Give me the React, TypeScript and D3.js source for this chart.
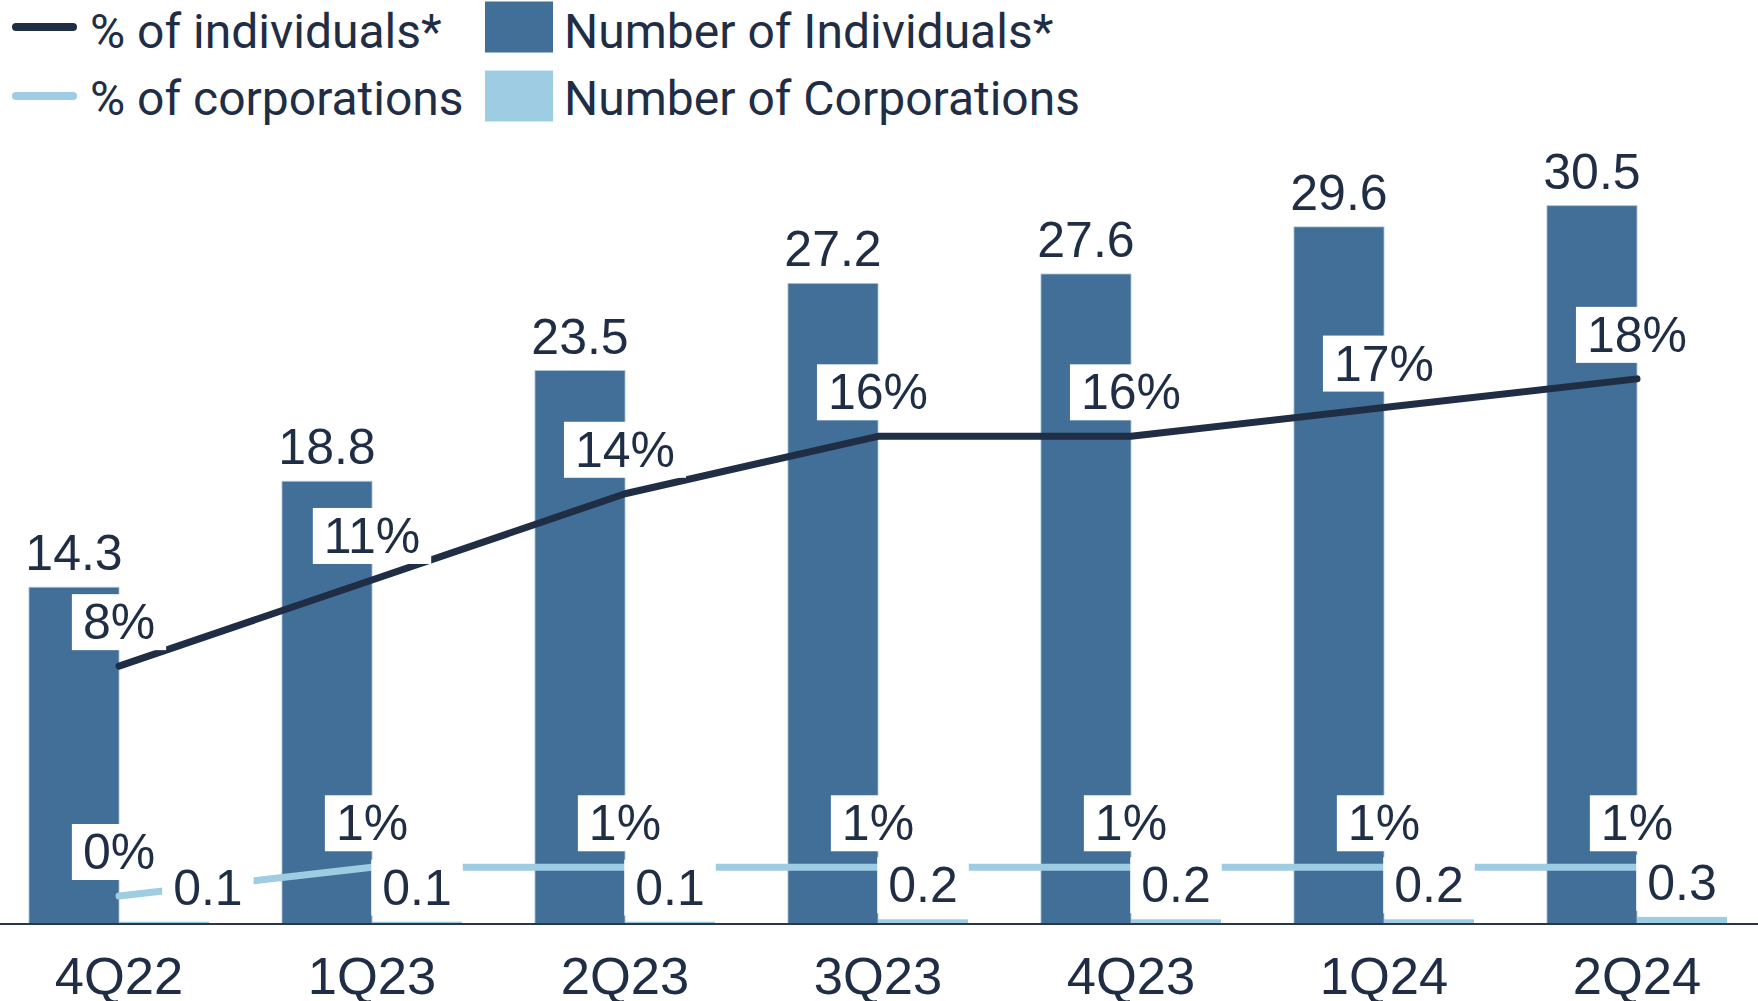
import * as d3 from "d3";
import React, { useEffect, useRef } from "react";

const quarters = ["4Q22", "1Q23", "2Q23", "3Q23", "4Q23", "1Q24", "2Q24"];
const individuals = [14.3, 18.8, 23.5, 27.2, 27.6, 29.6, 30.5];
const corporations = [0.1, 0.1, 0.1, 0.2, 0.2, 0.2, 0.3];
const pctIndividuals = [0.08, 0.11, 0.14, 0.16, 0.16, 0.17, 0.18];
const pctCorporations = [0.0, 0.01, 0.01, 0.01, 0.01, 0.01, 0.01];

const legendLines = ["% of individuals*", "% of corporations"];
const legendBars = ["Number of Individuals*", "Number of Corporations"];

const NAVY = "#1f2d45";
const DARK_BAR = "#426f97";
const LIGHT = "#9ecde3";
const LABEL_FONT = "'Liberation Sans', Arial, sans-serif";

type Box = { x0: number; x1: number; y0: number; y1: number };

const Chart: React.FC = () => {
  const svgRef = useRef<SVGSVGElement | null>(null);

  useEffect(() => {
    document.body.style.margin = "0";
    const svg = d3.select(svgRef.current);
    svg.selectAll("*").remove();
    const width = 1758;
    const height = 1001;
    const base = 924;

    const x = d3.scaleBand<string>().domain(quarters).range([29, 1727]).paddingInner(0.2884);
    const sub = d3.scaleBand<string>().domain(["ind", "corp"]).range([0, x.bandwidth()]);
    const y = d3.scaleLinear().domain([0, 35]).range([base, 99.75]);
    const yPct = d3.scaleLinear().domain([0, 0.2]).range([896, 321.4]);
    const bw = sub.bandwidth();

    // barre
    const bars = svg.append("g");
    bars
      .selectAll("rect.ind")
      .data(individuals)
      .join("rect")
      .attr("x", (_, i) => x(quarters[i])! + sub("ind")!)
      .attr("y", (d) => y(d))
      .attr("width", bw)
      .attr("height", (d) => base - y(d))
      .attr("fill", DARK_BAR)
      .attr("stroke", "#a9c1d7")
      .attr("stroke-width", 0.8);
    bars
      .selectAll("rect.corp")
      .data(corporations)
      .join("rect")
      .attr("x", (_, i) => x(quarters[i])! + sub("corp")!)
      .attr("y", (d) => y(d))
      .attr("width", bw)
      .attr("height", (d) => base - y(d))
      .attr("fill", LIGHT);

    // asse x
    svg
      .append("line")
      .attr("x1", 0)
      .attr("x2", width)
      .attr("y1", base)
      .attr("y2", base)
      .attr("stroke", "#2b3649")
      .attr("stroke-width", 2);

    // linee percentuali
    const px = (i: number) => x(quarters[i])! + bw;
    const line = d3
      .line<number>()
      .x((_, i) => px(i))
      .y((d) => yPct(d));
    svg
      .append("path")
      .datum(pctCorporations)
      .attr("d", line)
      .attr("fill", "none")
      .attr("stroke", LIGHT)
      .attr("stroke-width", 7)
      .attr("stroke-linecap", "round")
      .attr("stroke-linejoin", "round");
    svg
      .append("path")
      .datum(pctIndividuals)
      .attr("d", line)
      .attr("fill", "none")
      .attr("stroke", NAVY)
      .attr("stroke-width", 7)
      .attr("stroke-linecap", "round")
      .attr("stroke-linejoin", "round");

    // etichette con sfondo bianco
    const labels = svg
      .append("g")
      .attr("font-family", LABEL_FONT)
      .attr("font-size", 50)
      .attr("fill", NAVY);
    const addLabel = (cx: number, baseline: number, txt: string) => {
      const grp = labels.append("g");
      const rect = grp.append("rect").attr("fill", "white");
      const t = grp
        .append("text")
        .attr("x", cx)
        .attr("y", baseline)
        .attr("text-anchor", "middle")
        .text(txt);
      const bb = (t.node() as SVGTextElement).getBBox();
      rect
        .attr("x", bb.x - 11)
        .attr("y", bb.y)
        .attr("width", bb.width + 22)
        .attr("height", bb.height);
      const box: Box = { x0: bb.x - 11, x1: bb.x + bb.width + 11, y0: bb.y, y1: bb.y + bb.height };
      return { grp, box };
    };
    const fmtPct = d3.format(".0%");

    const corpPctBoxes = pctCorporations.map((d, i) => addLabel(px(i), yPct(d) - 27, fmtPct(d)).box);
    pctIndividuals.forEach((d, i) => addLabel(px(i), yPct(d) - 27, fmtPct(d)));

    individuals.forEach((d, i) => {
      addLabel(x(quarters[i])! + sub("ind")! + bw / 2, y(d) - 17, d.toFixed(1));
    });
    corporations.forEach((d, i) => {
      const { grp, box } = addLabel(x(quarters[i])! + sub("corp")! + bw / 2, y(d) - 17, d.toFixed(1));
      const other = corpPctBoxes[i];
      // sposta a destra se si sovrappone all'etichetta %
      if (box.y0 < other.y1 && box.y1 > other.y0 && box.x0 < other.x1 && box.x1 > other.x0) {
        grp.attr("transform", `translate(${other.x1 - box.x0 - 4},0)`);
      }
    });

    // etichette asse x
    svg
      .append("g")
      .selectAll("text")
      .data(quarters)
      .join("text")
      .attr("x", (d) => x(d)! + bw)
      .attr("y", 994)
      .attr("text-anchor", "middle")
      .attr("font-family", LABEL_FONT)
      .attr("font-size", 52.5)
      .attr("fill", NAVY)
      .text((d) => d);

    // legenda
    const legend = svg
      .append("g")
      .attr("font-family", "Roboto, sans-serif")
      .attr("font-size", 48)
      .attr("fill", NAVY);
    const rowY = [27, 96];
    const rowBase = [48, 115];
    legendLines.forEach((name, i) => {
      legend
        .append("line")
        .attr("x1", 16)
        .attr("x2", 73)
        .attr("y1", rowY[i])
        .attr("y2", rowY[i])
        .attr("stroke", i === 0 ? NAVY : LIGHT)
        .attr("stroke-width", 8)
        .attr("stroke-linecap", "round");
      legend.append("text").attr("x", 90).attr("y", rowBase[i]).text(name);
    });
    legendBars.forEach((name, i) => {
      legend
        .append("rect")
        .attr("x", 485)
        .attr("y", rowY[i] - 25.5)
        .attr("width", 68)
        .attr("height", 51)
        .attr("fill", i === 0 ? DARK_BAR : LIGHT);
      legend.append("text").attr("x", 564).attr("y", rowBase[i]).text(name);
    });

    svg.attr("width", width).attr("height", height);
  }, []);

  return <svg ref={svgRef} style={{ display: "block", background: "white" }} />;
};

export default function App() {
  return <Chart />;
}
